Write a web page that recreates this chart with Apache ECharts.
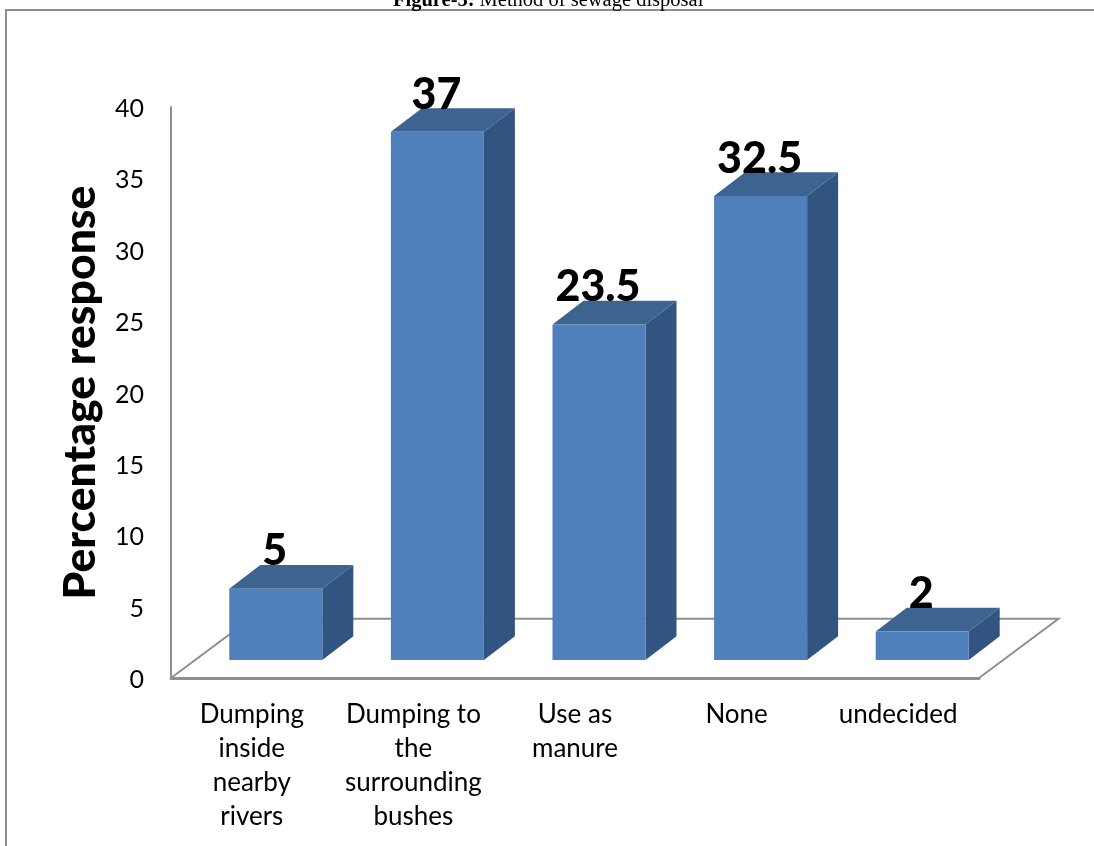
<!DOCTYPE html>
<html>
<head>
<meta charset="utf-8">
<style>html,body{margin:0;padding:0;background:#fff;overflow:hidden}#c{width:1094px;height:846px}</style>
<script src="https://cdn.jsdelivr.net/npm/echarts@6/dist/echarts.min.js"></script>
</head>
<body>
<div id="c"></div>
<script>
// Survey responses on sewage disposal
const categories = ['Dumping\ninside\nnearby\nrivers', 'Dumping to\nthe\nsurrounding\nbushes', 'Use as\nmanure', 'None', 'undecided'];
const responses = [5, 37, 23.5, 32.5, 2];
const valueTicks = [0, 5, 10, 15, 20, 25, 30, 35, 40];
const axisTitle = 'Percentage response';

// Oblique projection used for the pseudo-3D box look
const FLOOR_DX = 79.5, FLOOR_DY = 59.3;
const BASE_DX = 24, BASE_DY = 18;
const DEPTH_DX = 31, DEPTH_DY = 23.7;
const BAR_WIDTH = 93;
const GREY = '#8f8f8f';

function renderFloor(params, api) {
  const half = api.size([1, 0])[0] / 2;
  const left = api.coord([0, 0]);
  const right = api.coord([categories.length - 1, 0]);
  const x0 = left[0] - half, x1 = right[0] + half, y = left[1];
  return {
    type: 'group',
    children: [
      { type: 'polyline', shape: { points: [[x0, y], [x0 + FLOOR_DX, y - FLOOR_DY], [x1 + FLOOR_DX, y - FLOOR_DY], [x1, y]] },
        style: { stroke: GREY, lineWidth: 2, fill: null } }
    ]
  };
}

function renderBox(params, api) {
  const v = api.value(1);
  const top = api.coord([api.value(0), v]);
  const base = api.coord([api.value(0), 0]);
  const cx = top[0] + BASE_DX;
  const l = cx - BAR_WIDTH / 2, r = cx + BAR_WIDTH / 2;
  const t = top[1] - BASE_DY, b = base[1] - BASE_DY;
  return {
    type: 'group',
    children: [
      { type: 'polygon', shape: { points: [[r, t], [r + DEPTH_DX, t - DEPTH_DY], [r + DEPTH_DX, b - DEPTH_DY], [r, b]] },
        style: { fill: '#325480' } },
      { type: 'polygon', shape: { points: [[l, t], [l + DEPTH_DX, t - DEPTH_DY], [r + DEPTH_DX, t - DEPTH_DY], [r, t]] },
        style: { fill: '#3d6390' } },
      { type: 'rect', shape: { x: l, y: t, width: BAR_WIDTH, height: b - t },
        style: { fill: '#4f80bc' } },
      { type: 'text', style: { text: String(v), x: cx - 1, y: t - DEPTH_DY + 8, align: 'center', verticalAlign: 'bottom',
          font: '900 43px Lato', fill: '#000' } }
    ]
  };
}

const chart = echarts.init(document.getElementById('c'), null, { renderer: 'canvas' });
chart.setOption({
  animation: false,
  backgroundColor: '#fff',
  title: {
    text: '{b|Figure-5:} {r|Method of sewage disposal}',
    left: 393, top: -10, padding: 0,
    textStyle: { fontWeight: 'normal', rich: {
      b: { fontFamily: 'Liberation Serif', fontWeight: 'bold', fontSize: 20.5, color: '#000' },
      r: { fontFamily: 'Liberation Serif', fontWeight: 'normal', fontSize: 20.5, color: '#000' }
    } }
  },
  graphic: [
    { type: 'polyline', silent: true, z: 0, shape: { points: [[6, 850], [6, 10], [1100, 10]] },
      style: { stroke: '#8f8f8f', lineWidth: 2, fill: null } }
  ],
  grid: { left: 171, top: 107, width: 808, height: 571, containLabel: false },
  xAxis: {
    type: 'category',
    data: categories,
    axisTick: { show: false },
    axisLine: { show: true, lineStyle: { color: GREY, width: 3 } },
    axisLabel: { interval: 0, margin: 20, lineHeight: 34, fontFamily: 'Lato', fontSize: 26, color: '#000', align: 'center', verticalAlign: 'top' }
  },
  yAxis: {
    type: 'value',
    min: valueTicks[0],
    max: valueTicks[valueTicks.length - 1],
    interval: valueTicks[1] - valueTicks[0],
    name: axisTitle,
    nameLocation: 'middle',
    nameGap: 68,
    nameTextStyle: { fontFamily: 'Lato', fontWeight: 900, fontSize: 44.5, color: '#000' },
    splitLine: { show: false },
    axisTick: { show: false },
    axisLine: { show: true, lineStyle: { color: GREY, width: 2 } },
    axisLabel: {
      margin: 27,
      formatter: '{t|{value}}',
      rich: { t: { padding: [4, 0, 0, 0], fontFamily: 'Lato', fontSize: 25, color: '#000' } }
    }
  },
  series: [
    { type: 'custom', name: 'floor', z: 1, silent: true, renderItem: renderFloor, encode: { x: 0, y: 1 }, data: [[0, 0]] },
    { type: 'custom', name: 'response', z: 2, silent: true, renderItem: renderBox, encode: { x: 0, y: 1 },
      data: responses.map((v, i) => [i, v]) }
  ]
});
</script>
</body>
</html>
